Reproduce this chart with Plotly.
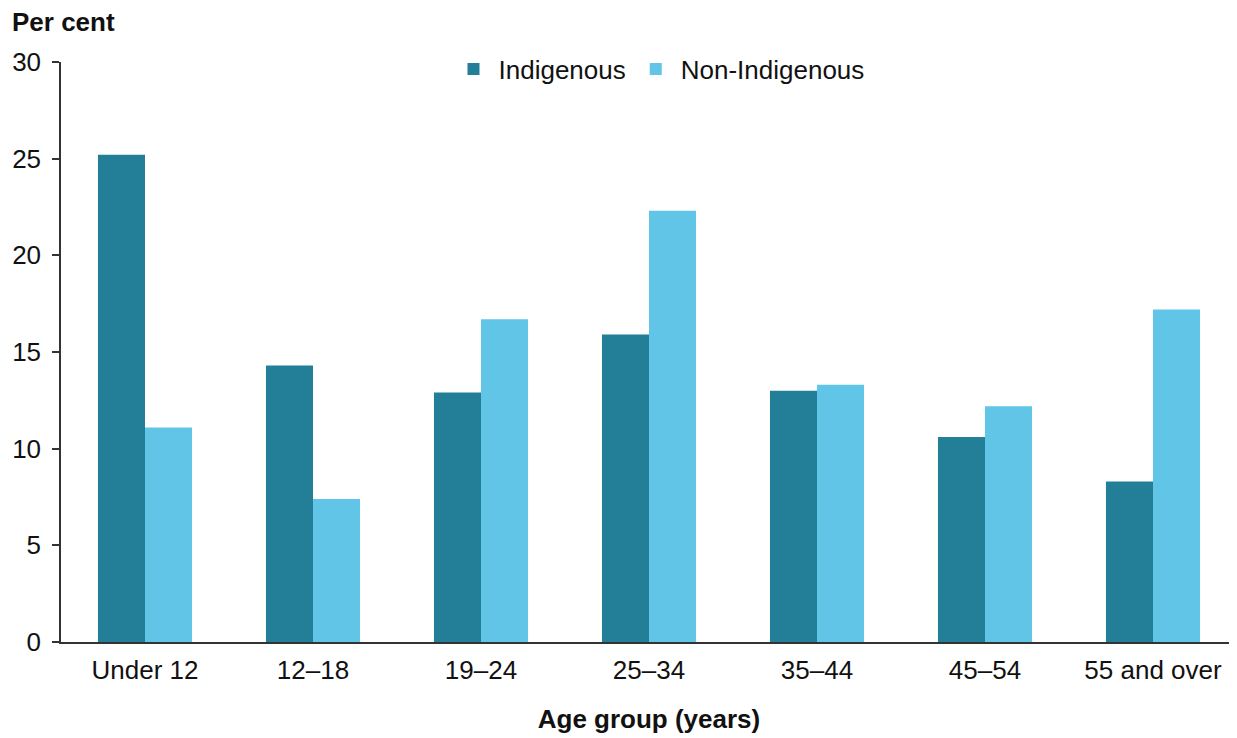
import plotly.graph_objects as go

categories = ["Under 12", "12–18", "19–24", "25–34", "35–44", "45–54", "55 and over"]
indigenous = [25.2, 14.3, 12.9, 15.9, 13.0, 10.6, 8.3]
non_indigenous = [11.1, 7.4, 16.7, 22.3, 13.3, 12.2, 17.2]
y_ticks = [0, 5, 10, 15, 20, 25, 30]

FONT = "Liberation Sans, Arial, sans-serif"
OFF = 8  # page body margin
W, H = 1237 - OFF, 738 - OFF
ML, MR, MT, MB = 61 - OFF, 0, 62 - OFF, 96
PW, PH = W - ML - MR, H - MT - MB

def px_x(x):
    return (x - OFF - ML) / PW

def px_y(y):
    return (OFF + H - MB - y) / PH

fig = go.Figure()
fig.add_trace(go.Bar(name="Indigenous", x=categories, y=indigenous,
                     marker=dict(color="#237f98", line=dict(width=0))))
fig.add_trace(go.Bar(name="Non-Indigenous", x=categories, y=non_indigenous,
                     marker=dict(color="#60c5e7", line=dict(width=0))))

fig.update_layout(
    width=W, height=H,
    margin=dict(l=ML, r=MR, t=MT, b=MB),
    paper_bgcolor="white", plot_bgcolor="white",
    font=dict(family=FONT, size=26, color="#111111"),
    barmode="group", bargap=0.44, bargroupgap=0,
    legend=dict(orientation="h", x=px_x(659), xanchor="center",
                y=px_y(69), yanchor="middle",
                font=dict(size=26), itemwidth=40, traceorder="normal",
                bgcolor="rgba(0,0,0,0)"),
    xaxis=dict(showline=True, linecolor="#333333", linewidth=1.5,
               ticks="", showgrid=False, ticklabelstandoff=4,
               title=dict(text="<b>Age group (years)</b>", standoff=26,
                          font=dict(size=26))),
    yaxis=dict(range=[0, 30], tickvals=y_ticks, showline=True,
               linecolor="#333333", linewidth=1.5, ticks="outside",
               ticklen=7, tickcolor="#333333", tickwidth=1.5,
               showgrid=False, zeroline=False, ticklabelstandoff=6),
    showlegend=True,
)

fig.add_annotation(text="<b>Per cent</b>", xref="paper", yref="paper",
                   x=px_x(10), y=px_y(22),
                   xanchor="left", yanchor="middle", showarrow=False,
                   font=dict(size=26, family=FONT, color="#111111"))

fig.write_html("out.html")
